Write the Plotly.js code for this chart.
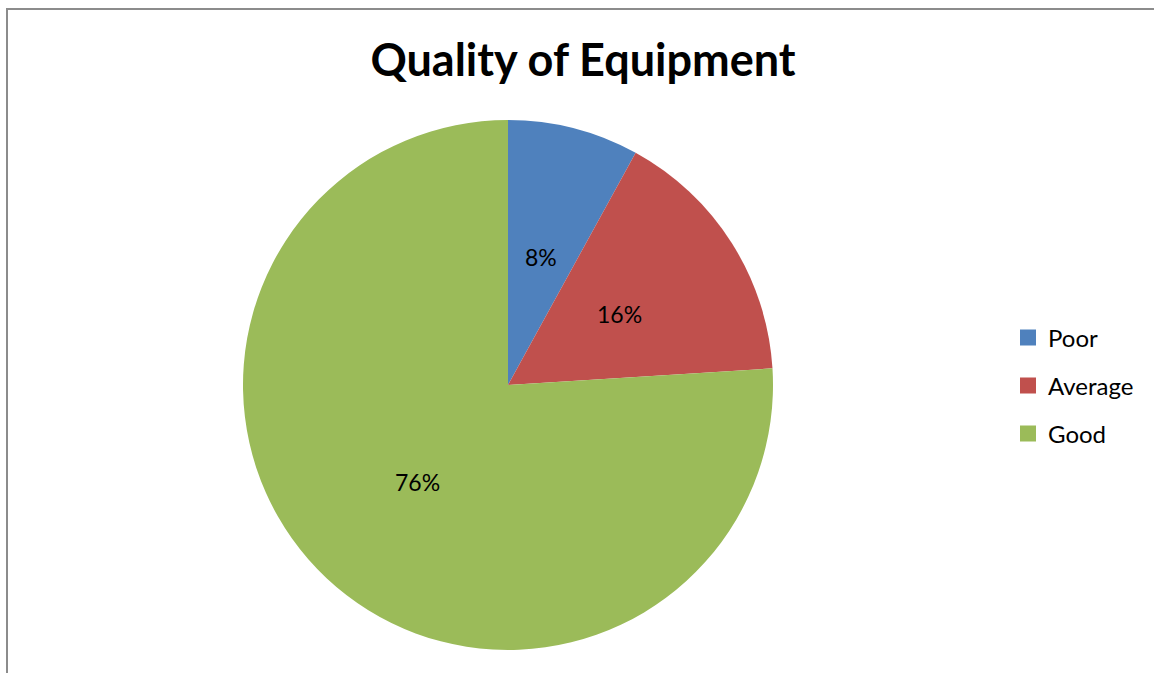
<!DOCTYPE html>
<html>
<head>
<meta charset="utf-8">
<script src="https://cdn.plot.ly/plotly-3.0.1.min.js"></script>
<style>html,body{margin:0;padding:0;background:#fff;}#chart{width:1154px;height:673px;}</style>
</head>
<body>
<div id="chart"></div>
<script>
const categories = ["Poor", "Average", "Good"];
const values = [8, 16, 76];
const colors = ["#4F81BD", "#C0504D", "#9BBB59"];
const chartTitle = "Quality of Equipment";

const W = 1154, H = 673;
const cx = 508, cy = 385, R = 265;
const FONT = "Lato, 'Open Sans', sans-serif";

const pie = {
  type: "pie",
  labels: categories,
  values: values,
  marker: {colors: colors, line: {width: 0}},
  sort: false,
  direction: "clockwise",
  rotation: 0,
  textinfo: "none",
  hoverinfo: "label+percent",
  showlegend: false,
  domain: {x: [(cx - R) / W, (cx + R) / W], y: [(H - cy - R) / H, (H - cy + R) / H]}
};

// legend entries (one legend per category so spacing can match the reference)
const legendNames = ["legend", "legend2", "legend3"];
const legendTraces = categories.map((c, i) => ({
  type: "scatter", mode: "markers",
  x: [null], y: [null],
  name: c,
  marker: {symbol: "square", size: 16, color: colors[i]},
  legend: legendNames[i],
  hoverinfo: "skip"
}));

// percent labels at the middle of each slice, half way out
const total = values.reduce((a, b) => a + b, 0);
let cum = 0;
const annotations = values.map((v) => {
  const mid = (cum + v / 2) / total * 2 * Math.PI;
  cum += v;
  const r = 0.5 * R;
  const px = cx + r * Math.sin(mid);
  const py = cy - r * Math.cos(mid);
  return {
    xref: "paper", yref: "paper",
    x: px / W, y: 1 - py / H,
    xanchor: "center", yanchor: "middle",
    text: Math.round(v / total * 100) + "%",
    showarrow: false,
    font: {family: FONT, size: 23, color: "#000"}
  };
});

const legendRows = [338, 386, 434];
const layout = {
  width: W, height: H,
  margin: {l: 0, r: 0, t: 0, b: 0},
  paper_bgcolor: "#fff",
  plot_bgcolor: "#fff",
  xaxis: {visible: false, fixedrange: true},
  yaxis: {visible: false, fixedrange: true},
  title: {
    text: "<b>" + chartTitle + "</b>",
    font: {family: FONT, size: 45, color: "#000"},
    x: 583 / W, xanchor: "center",
    y: 1 - 60 / H, yanchor: "middle"
  },
  showlegend: true,
  annotations: annotations,
  shapes: [{
    type: "rect", xref: "paper", yref: "paper",
    x0: 7 / W, x1: 1.01, y0: -0.01, y1: 1 - 9 / H,
    line: {color: "#8C8C8C", width: 2}
  }]
};
legendNames.forEach((ln, i) => {
  layout[ln] = {
    x: 1008 / W, xanchor: "left",
    y: 1 - legendRows[i] / H, yanchor: "middle",
    font: {family: FONT, size: 24, color: "#000"},
    bgcolor: "rgba(0,0,0,0)",
    itemsizing: "trace",
    itemclick: false, itemdoubleclick: false
  };
});

Plotly.newPlot("chart", [pie].concat(legendTraces), layout, {displayModeBar: false, staticPlot: true});
</script>
</body>
</html>
